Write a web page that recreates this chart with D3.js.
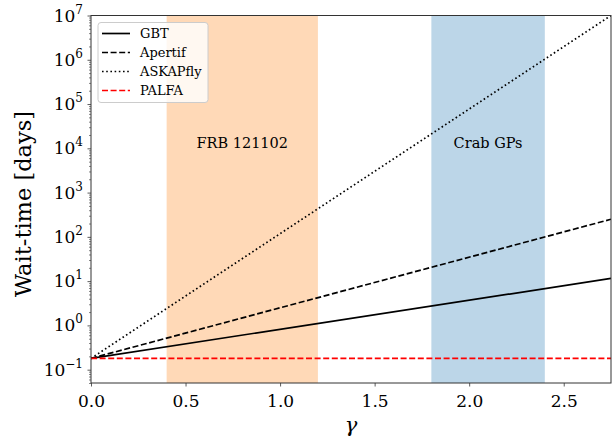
<!DOCTYPE html>
<html>
<head>
<meta charset="utf-8">
<script src="https://cdn.jsdelivr.net/npm/d3@7"></script>
<style>
  body { margin: 0; background: #fff; }
  text { font-family: "DejaVu Serif", serif; }
</style>
</head>
<body>
<svg id="chart"></svg>
<script>
// endpoints of each curve (straight on a log axis)
const gamma = [0, 2.75];
const gbt = [0.18, 11.5];
const apertif = [0.18, 250];
const askapfly = [0.18, 1.0e7];
const palfa = [0.18, 0.18];

const seriesNames = ['GBT', 'Apertif', 'ASKAPfly', 'PALFA'];
const xTicks = [0, 0.5, 1.0, 1.5, 2.0, 2.5];
const yExponents = [-1, 0, 1, 2, 3, 4, 5, 6, 7];

// shaded bands
const bandNames = ['FRB 121102', 'Crab GPs'];
const bandFrom = [0.4, 1.8];
const bandTo = [1.2, 2.4];
const bandColors = ['#ffd9b7', '#bcd6e8'];
const bandLabelX = [0.8, 2.1];
const bandLabelY = 1e4;

const svgWidth = 613;
const svgHeight = 439;
const margin = {left: 91, top: 15.5, right: 2, bottom: 56};
const w = svgWidth - margin.left - margin.right;
const h = svgHeight - margin.top - margin.bottom;

const svg = d3.select('#chart')
    .attr('width', svgWidth)
    .attr('height', svgHeight);

const g = svg.append('g')
    .attr('transform', 'translate(' + margin.left + ',' + margin.top + ')');

const x = d3.scaleLinear().domain([0, 2.75]).range([0, w]);
const y = d3.scaleLog().domain([0.05, 1e7]).range([h, 0]);

// bands
g.selectAll('rect.band')
    .data(bandNames)
    .enter()
    .append('rect')
    .attr('class', 'band')
    .attr('x', (d, i) => x(bandFrom[i]))
    .attr('width', (d, i) => x(bandTo[i]) - x(bandFrom[i]))
    .attr('y', 0)
    .attr('height', h)
    .attr('fill', (d, i) => bandColors[i]);

g.selectAll('text.bandlabel')
    .data(bandNames)
    .enter()
    .append('text')
    .attr('class', 'bandlabel')
    .attr('x', (d, i) => x(bandLabelX[i]))
    .attr('y', y(bandLabelY))
    .attr('text-anchor', 'middle')
    .attr('font-size', 14.5)
    .attr('fill', '#000')
    .text(d => d);

// lines
const seriesVals = [gbt, apertif, askapfly, palfa];
const seriesColor = ['#000', '#000', '#000', '#ff0000'];
const seriesDash = ['none', '6,2.6', '1.6,2.6', '6,2.6'];

const line = d3.line()
    .x(d => x(d[0]))
    .y(d => y(d[1]));

svg.append('clipPath').attr('id', 'clip')
    .append('rect').attr('width', w).attr('height', h);

g.selectAll('path.series')
    .data(seriesVals)
    .enter()
    .append('path')
    .attr('class', 'series')
    .attr('clip-path', 'url(#clip)')
    .attr('d', vals => line(gamma.map((gm, i) => [gm, vals[i]])))
    .attr('fill', 'none')
    .attr('stroke', (d, i) => seriesColor[i])
    .attr('stroke-width', 1.7)
    .attr('stroke-dasharray', (d, i) => seriesDash[i]);

// axes
const xAxis = d3.axisBottom(x)
    .tickValues(xTicks)
    .tickSize(3.5)
    .tickFormat(d3.format('.1f'));

const xg = g.append('g')
    .attr('transform', 'translate(0,' + h + ')')
    .call(xAxis);
xg.select('.domain').remove();
xg.selectAll('line').attr('stroke', '#333').attr('stroke-width', 0.8);
xg.selectAll('text')
    .attr('font-family', 'DejaVu Serif')
    .attr('font-size', 17)
    .attr('fill', '#000')
    .attr('dy', '1.05em');

// y minor ticks
const minorVals = [];
yExponents.concat([-2]).forEach(e => {
    for (let k = 2; k <= 9; k++) {
        const v = k * Math.pow(10, e);
        if (v >= 0.05 && v <= 1e7) minorVals.push(v);
    }
});
const yMinor = d3.axisLeft(y).tickValues(minorVals).tickSize(2).tickFormat('');
const ymg = g.append('g').call(yMinor);
ymg.select('.domain').remove();
ymg.selectAll('line').attr('stroke', '#333').attr('stroke-width', 0.6);

const yAxis = d3.axisLeft(y)
    .tickValues(yExponents.map(e => Math.pow(10, e)))
    .tickSize(3.5)
    .tickFormat('');
const yg = g.append('g').call(yAxis);
yg.select('.domain').remove();
yg.selectAll('line').attr('stroke', '#333').attr('stroke-width', 0.8);

const ylab = g.selectAll('text.ytick')
    .data(yExponents)
    .enter()
    .append('text')
    .attr('class', 'ytick')
    .attr('x', -8)
    .attr('y', d => y(Math.pow(10, d)) + 6)
    .attr('text-anchor', 'end')
    .attr('font-size', 17)
    .attr('fill', '#000');
ylab.append('tspan').text('10');
ylab.append('tspan')
    .attr('font-size', 12)
    .attr('dy', -8)
    .text(d => d < 0 ? '\u2212' + Math.abs(d) : d);

// frame
g.append('rect')
    .attr('width', w)
    .attr('height', h)
    .attr('fill', 'none')
    .attr('stroke', '#333')
    .attr('stroke-width', 1);

// axis labels
svg.append('text')
    .attr('x', margin.left + w / 2)
    .attr('y', 432)
    .attr('text-anchor', 'middle')
    .attr('font-family', 'DejaVu Sans')
    .attr('font-style', 'italic')
    .attr('font-size', 21)
    .text('\u03b3');

svg.append('text')
    .attr('transform', 'translate(31,204) rotate(-90)')
    .attr('text-anchor', 'middle')
    .attr('font-size', 22.5)
    .text('Wait-time [days]');

// legend
const legend = g.append('g').attr('transform', 'translate(7,7)');
legend.append('rect')
    .attr('width', 110)
    .attr('height', 80)
    .attr('rx', 3)
    .attr('fill', '#fff')
    .attr('fill-opacity', 0.8)
    .attr('stroke', '#ccc')
    .attr('stroke-width', 1);

const items = legend.selectAll('g.item')
    .data(seriesNames)
    .enter()
    .append('g')
    .attr('class', 'item')
    .attr('transform', (d, i) => 'translate(0,' + (11 + i * 19) + ')');
items.append('line')
    .attr('x1', 4).attr('x2', 32)
    .attr('stroke', (d, i) => seriesColor[i])
    .attr('stroke-width', 1.7)
    .attr('stroke-dasharray', (d, i) => seriesDash[i]);
items.append('text')
    .attr('x', 42)
    .attr('y', 4.5)
    .attr('font-size', 13)
    .text(d => d);
</script>
</body>
</html>
